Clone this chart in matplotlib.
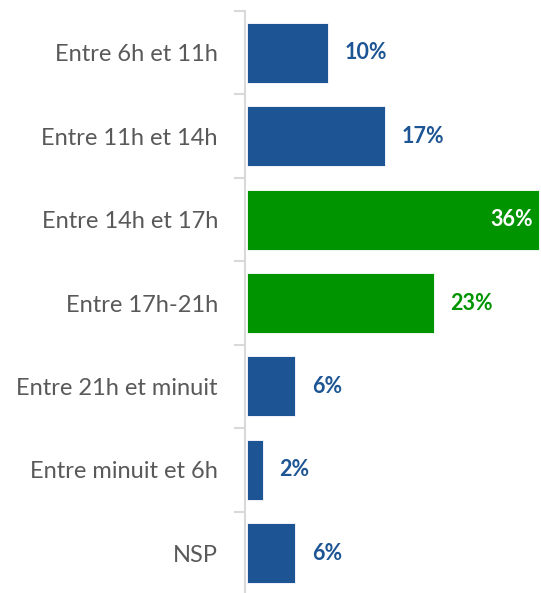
import matplotlib
matplotlib.use("Agg")
import matplotlib.pyplot as plt

categories = ["Entre 6h et 11h", "Entre 11h et 14h", "Entre 14h et 17h", "Entre 17h-21h",
              "Entre 21h et minuit", "Entre minuit et 6h", "NSP"]
values = [10, 17, 36, 23, 6, 2, 6]
highlight = [False, False, True, True, False, False, False]

BLUE = "#1D5594"
GREEN = "#009400"
GRAY = "#595959"

plt.rcParams['font.family'] = ['Lato', 'DejaVu Sans']

fig = plt.figure(figsize=(5.41, 5.93), dpi=100)
ax = fig.add_axes([245 / 541, -2 / 593, 296 / 541, 584 / 593])

ypos = list(range(len(categories)))
colors = [GREEN if h else BLUE for h in highlight]
ax.barh(ypos, values, height=0.72, color=colors, edgecolor="white", linewidth=0.6, left=0.2)

ax.set_ylim(len(categories) - 0.5, -0.5)
ax.set_xlim(0, 36.4)

for y, v, c in zip(ypos, values, colors):
    if v == max(values):
        ax.text(v - 0.6, y, f"{v}%", va="center", ha="right", color="white",
                fontsize=15.5, fontweight="bold")
    else:
        ax.text(v + 2.2, y, f"{v}%", va="center", ha="left", color=c,
                fontsize=15.5, fontweight="bold")

ax.set_yticks(ypos)
ax.set_yticklabels(categories, fontsize=17, color=GRAY)
ax.set_yticks([i - 0.5 for i in range(len(categories) + 1)], minor=True)
ax.tick_params(axis="y", which="major", length=0, pad=19.5)
ax.tick_params(axis="y", which="minor", length=8, color="#D9D9D9", width=1.5)
ax.set_xticks([])

for s in ["top", "right", "bottom"]:
    ax.spines[s].set_visible(False)
ax.spines["left"].set_color("#D9D9D9")
ax.spines["left"].set_linewidth(1.5)

fig.savefig("out.png", dpi=100)
